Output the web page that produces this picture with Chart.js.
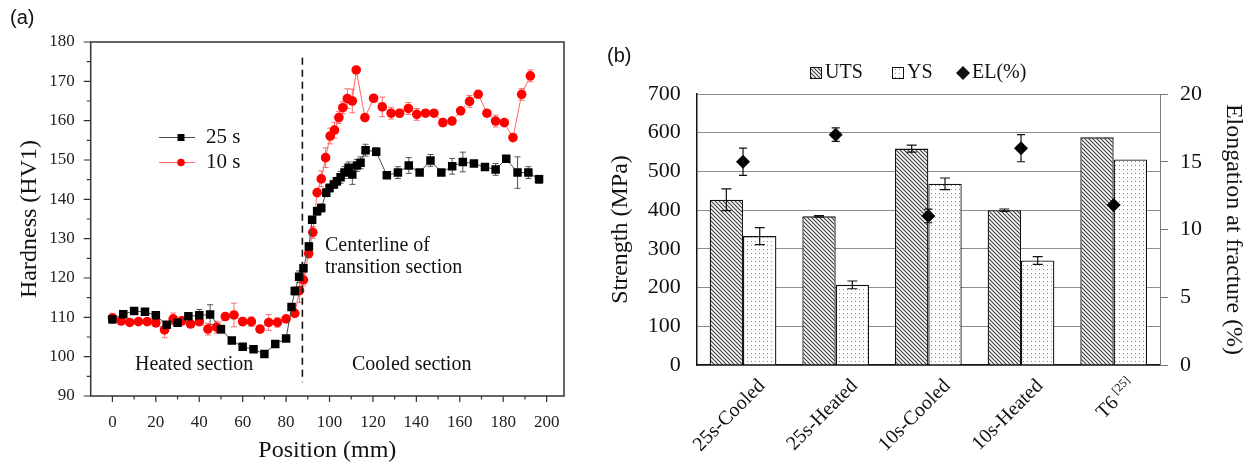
<!DOCTYPE html>
<html>
<head>
<meta charset="utf-8">
<script src="https://cdn.jsdelivr.net/npm/chart.js@4.4.1/dist/chart.umd.min.js"></script>
<style>
  body { margin: 0; background: #fff; }
  #wrap { position: relative; width: 1248px; height: 465px; }
  canvas { position: absolute; top: 0; }
  #hardness { left: 0; }
  #strength { left: 590px; }
</style>
</head>
<body>
<div id="wrap">
  <canvas id="hardness" width="590" height="465"></canvas>
  <canvas id="strength" width="658" height="465"></canvas>
</div>
<script>
const serif = "'Liberation Serif', 'Times New Roman', serif";
const sans = "'Liberation Sans', Arial, sans-serif";

// (a) hardness profiles
const pos25 = [0, 5, 10, 15, 20, 25, 30, 35, 40, 45, 50, 55, 60, 65, 70, 75, 80,
  82.5, 84, 86, 88, 90.5, 92,
  94.3, 96.2, 98.5, 100, 102, 103.4, 105.1, 106.9, 108.8, 110.5, 112.6, 114.3, 116.6,
  121.5, 126.4, 131.5, 136.5, 141.5, 146.5, 151.5, 156.5, 161.4, 166.5, 171.6, 176.5, 181.4, 186.6, 191.6, 196.5];
const hv25 = [109.5, 110.8, 111.6, 111.4, 110.5, 108.1, 108.6, 110.3, 110.5, 110.7, 107.0, 104.1, 102.5, 101.9, 100.7, 103.2, 104.6,
  112.6, 116.7, 120.3, 122.5, 128.0, 134.8,
  137.0, 137.8, 141.7, 142.9, 143.8, 144.6, 145.6, 146.8, 148.0, 146.3, 148.6, 149.3, 152.5,
  152.1, 146.1, 146.8, 148.6, 146.8, 149.9, 146.8, 148.4, 149.5, 149.1, 148.2, 147.6, 150.3, 146.8, 146.8, 145.1];
const err25 = [1, 0.5, 0.3, 0.3, 0.5, 0.8, 0.8, 0.8, 1.5, 2.5, 1, 0.8, 0.5, 0.8, 0.3, 0.5, 0.5,
  0.5, 1, 1.5, 1, 1, 0.5,
  1, 1, 1, 1, 1, 1, 1.5, 1.5, 1.5, 2.5, 1.5, 1.5, 1.5,
  1, 0.5, 1.5, 2, 0.5, 1.5, 0.5, 2, 2.5, 0.5, 0.5, 1.5, 0.3, 4, 1.5, 1];

const pos10 = [0, 4, 8, 12, 16, 20, 24, 28, 32, 36, 40, 44, 48, 52, 56, 60, 64, 68, 72, 76, 80, 84,
  86.2, 88, 90.4, 92.3,
  94.3, 96.2, 98.2, 100.3, 102.3, 104.3, 106.1, 108.2, 110.5, 112.3, 116.3, 120.3, 124.3, 128.4, 132.3,
  136.3, 140.2, 144.2, 148.1, 152.2, 156.4, 160.4, 164.5, 168.5, 172.5, 176.5, 180.5, 184.5, 188.5, 192.5];
const hv10 = [109.8, 109.1, 108.7, 108.9, 108.9, 108.6, 106.8, 109.6, 109.1, 108.3, 108.9, 107.0, 107.5, 110.2, 110.6, 108.9, 108.9, 107.0, 108.7, 108.7, 109.6, 111.0,
  116.8, 119.5, 126.2, 131.6,
  141.7, 145.2, 150.6, 156.1, 157.6, 160.8, 163.3, 165.6, 165.0, 172.9, 160.8, 165.7, 163.5, 161.9, 161.9,
  163.1, 161.6, 161.9, 161.9, 159.5, 159.9, 162.5, 164.9, 166.7, 161.9, 159.9, 159.5, 155.7, 166.7, 171.4];
const err10 = [1.2, 1, 0.5, 0.5, 0.8, 0.5, 2, 1.5, 1, 0.8, 1, 1.5, 1.5, 0.8, 3, 1, 1.2, 0.8, 2, 1.2, 0.5, 0.5,
  3, 1.5, 1, 1.5,
  0.5, 2, 2.5, 2, 2, 1.5, 1.5, 2.5, 3, 0.5, 0.5, 0.5, 2.5, 1.5, 1,
  1.5, 1.5, 0.5, 0.3, 1, 0.5, 0.5, 1.5, 0.5, 0.5, 1.5, 0.5, 0.5, 1.5, 1.5];

const xTicks = [0, 20, 40, 60, 80, 100, 120, 140, 160, 180, 200];
const yTicks = [90, 100, 110, 120, 130, 140, 150, 160, 170, 180];
const centerline = 87.5;

// (b) tensile properties
const categories = ['25s-Cooled', '25s-Heated', '10s-Cooled', '10s-Heated', 'T6'];
const labelRefs = ['', '', '', '', '[25]'];
const uts = [427, 384, 559, 400, 588];
const utsErr = [28, 2, 9, 3, 0];
const ys = [333, 207, 468, 270, 531];
const ysErr = [22, 10, 15, 10, 0];
const el = [15, 17, 11, 16, 11.8];
const elErr = [1, 0.5, 0.5, 1, 0];
const strengthTicks = [0, 100, 200, 300, 400, 500, 600, 700];
const elTicks = [0, 5, 10, 15, 20];

Chart.defaults.font.family = serif;
Chart.defaults.color = '#111';

function hatchPattern() {
  const c = document.createElement('canvas');
  c.width = 4; c.height = 4;
  const g = c.getContext('2d');
  g.fillStyle = '#fff'; g.fillRect(0, 0, 4, 4);
  g.strokeStyle = '#3a3a3a'; g.lineWidth = 1.1;
  g.beginPath();
  g.moveTo(-1, -1); g.lineTo(5, 5);
  g.moveTo(-1, 3); g.lineTo(1, 5);
  g.moveTo(3, -1); g.lineTo(5, 1);
  g.stroke();
  return g.createPattern(c, 'repeat');
}
function dotPattern() {
  const c = document.createElement('canvas');
  c.width = 4; c.height = 4;
  const g = c.getContext('2d');
  g.fillStyle = '#fff'; g.fillRect(0, 0, 4, 4);
  g.fillStyle = '#8a8a8a'; g.fillRect(1, 1, 1, 1);
  return g.createPattern(c, 'repeat');
}
const hatch = hatchPattern();
const dots = dotPattern();

function vErr(ctx, x, y1, y2, cap) {
  ctx.beginPath();
  ctx.moveTo(x, y1); ctx.lineTo(x, y2);
  ctx.moveTo(x - cap / 2, y1); ctx.lineTo(x + cap / 2, y1);
  ctx.moveTo(x - cap / 2, y2); ctx.lineTo(x + cap / 2, y2);
  ctx.stroke();
}

const hardnessDecor = {
  id: 'hardnessDecor',
  beforeDatasetsDraw(chart) {
    const ctx = chart.ctx, ysc = chart.scales.y;
    const sets = [[hv25, err25, '#555'], [hv10, err10, '#ff6b6b']];
    ctx.save();
    ctx.lineWidth = 1;
    sets.forEach(([vals, errs, col], d) => {
      ctx.strokeStyle = col;
      chart.getDatasetMeta(d).data.forEach((pt, i) => {
        if (!errs[i]) return;
        vErr(ctx, pt.x, ysc.getPixelForValue(vals[i] + errs[i]), ysc.getPixelForValue(vals[i] - errs[i]), 6);
      });
    });
    ctx.restore();
  },
  afterDraw(chart) {
    const ctx = chart.ctx, xs = chart.scales.x, ysc = chart.scales.y;
    const {left, right, top, bottom} = chart.chartArea;
    ctx.save();
    // frame and outward ticks
    ctx.strokeStyle = '#333'; ctx.lineWidth = 1.5;
    ctx.strokeRect(left, top, right - left, bottom - top);
    ctx.lineWidth = 1.2;
    ctx.beginPath();
    for (let v = 0; v <= 200; v += 10) {
      const px = xs.getPixelForValue(v);
      ctx.moveTo(px, bottom); ctx.lineTo(px, bottom + (v % 20 === 0 ? 6 : 3.5));
    }
    for (let v = 90; v <= 180; v += 5) {
      const py = ysc.getPixelForValue(v);
      ctx.moveTo(left, py); ctx.lineTo(left - (v % 10 === 0 ? 7 : 4), py);
    }
    ctx.stroke();

    // centerline of transition section
    ctx.strokeStyle = '#111'; ctx.lineWidth = 1.6; ctx.setLineDash([7, 5]);
    const cx = xs.getPixelForValue(centerline);
    ctx.beginPath();
    ctx.moveTo(cx, ysc.getPixelForValue(176)); ctx.lineTo(cx, ysc.getPixelForValue(93.5));
    ctx.stroke();
    ctx.setLineDash([]);

    // annotations
    ctx.fillStyle = '#111';
    ctx.textAlign = 'left'; ctx.textBaseline = 'middle';
    ctx.font = `20px ${serif}`;
    ctx.fillText('Centerline of', 325, 246);
    ctx.fillText('transition section', 325, 268);
    ctx.fillText('Heated section', 135, 365);
    ctx.fillText('Cooled section', 352, 365);

    // legend
    const items = [['25 s', '#4a4a4a', '#000', 'rect', 137.5], ['10 s', '#ff6666', '#ff0000', 'circle', 162.5]];
    items.forEach(([txt, lc, mc, shape, y]) => {
      ctx.strokeStyle = lc; ctx.lineWidth = 1;
      ctx.beginPath(); ctx.moveTo(159, y); ctx.lineTo(195, y); ctx.stroke();
      ctx.fillStyle = mc;
      if (shape === 'rect') ctx.fillRect(177.5, y - 3.5, 7, 7);
      else { ctx.beginPath(); ctx.arc(181, y, 3.8, 0, Math.PI * 2); ctx.fill(); }
      ctx.fillStyle = '#111'; ctx.font = `21px ${serif}`;
      ctx.fillText(txt, 206, y);
    });

    ctx.font = `20px ${sans}`;
    ctx.fillText('(a)', 10, 18);
    ctx.restore();
  }
};

new Chart(document.getElementById('hardness'), {
  type: 'line',
  data: {
    datasets: [
      {
        label: '25 s',
        data: pos25.map((x, i) => ({x, y: hv25[i]})),
        borderColor: '#4a4a4a', borderWidth: 1,
        pointStyle: 'rect', pointRadius: 6,
        pointBackgroundColor: '#000', pointBorderColor: '#000', pointBorderWidth: 0
      },
      {
        label: '10 s',
        data: pos10.map((x, i) => ({x, y: hv10[i]})),
        borderColor: '#ff6666', borderWidth: 1,
        pointStyle: 'circle', pointRadius: 4.8,
        pointBackgroundColor: '#ff0000', pointBorderColor: '#ff0000', pointBorderWidth: 0
      }
    ]
  },
  options: {
    responsive: false, animation: false, devicePixelRatio: 1,
    layout: {padding: {top: 42, right: 26, left: 15, bottom: 0}},
    plugins: {legend: {display: false}, tooltip: {enabled: false}},
    scales: {
      x: {
        type: 'linear', min: -10, max: 208,
        afterBuildTicks: s => { s.ticks = xTicks.map(v => ({value: v})); },
        afterFit: s => { s.height = 69; },
        grid: {display: false}, border: {display: false},
        ticks: {font: {size: 17}, color: '#222', padding: 8, maxRotation: 0, autoSkip: false},
        title: {display: true, text: 'Position (mm)', font: {size: 24}, color: '#111', padding: 0}
      },
      y: {
        min: 90, max: 180,
        afterBuildTicks: s => { s.ticks = yTicks.map(v => ({value: v})); },
        afterFit: s => { s.width = 75.7; },
        grid: {display: false}, border: {display: false},
        ticks: {font: {size: 17}, color: '#222', padding: 8},
        title: {display: true, text: 'Hardness (HV1)', font: {size: 24}, color: '#111', padding: 0}
      }
    }
  },
  plugins: [hardnessDecor]
});

const strengthDecor = {
  id: 'strengthDecor',
  afterDatasetsDraw(chart) {
    const ctx = chart.ctx, ysc = chart.scales.y, y2 = chart.scales.y2;
    ctx.save();
    ctx.strokeStyle = '#111'; ctx.lineWidth = 1.2;
    [[uts, utsErr], [ys, ysErr]].forEach(([vals, errs], d) => {
      chart.getDatasetMeta(d).data.forEach((bar, i) => {
        if (!errs[i]) return;
        vErr(ctx, bar.x, ysc.getPixelForValue(vals[i] + errs[i]), ysc.getPixelForValue(vals[i] - errs[i]), 10);
      });
    });
    chart.getDatasetMeta(2).data.forEach((pt, i) => {
      if (!elErr[i]) return;
      vErr(ctx, pt.x, y2.getPixelForValue(el[i] + elErr[i]), y2.getPixelForValue(el[i] - elErr[i]), 8);
    });
    ctx.restore();
  },
  afterDraw(chart) {
    const ctx = chart.ctx, xs = chart.scales.x;
    const base = chart.chartArea.bottom;
    ctx.save();
    ctx.fillStyle = '#111';
    // rotated category labels
    categories.forEach((lab, i) => {
      ctx.save();
      ctx.translate(xs.getPixelForValue(i) + 19, base + 18);
      ctx.rotate(-Math.PI / 4);
      ctx.textAlign = 'right'; ctx.textBaseline = 'middle';
      let end = 0;
      if (labelRefs[i]) {
        ctx.font = `12px ${serif}`;
        ctx.fillText(labelRefs[i], 0, -6);
        end = ctx.measureText(labelRefs[i]).width + 4;
      }
      ctx.font = `20px ${serif}`;
      ctx.fillText(lab, -end, 0);
      ctx.restore();
    });

    // legend
    ctx.textAlign = 'left'; ctx.textBaseline = 'middle';
    ctx.font = `20px ${serif}`;
    const ly = 73;
    [[hatch, 220, 'UTS'], [dots, 302, 'YS']].forEach(([pat, x, txt]) => {
      ctx.fillStyle = pat; ctx.fillRect(x, ly - 6, 12, 12);
      ctx.strokeStyle = '#111'; ctx.lineWidth = 1; ctx.strokeRect(x + 0.5, ly - 5.5, 11, 11);
      ctx.fillStyle = '#111'; ctx.fillText(txt, x + 15, ly);
    });
    ctx.beginPath();
    ctx.moveTo(373, ly - 7); ctx.lineTo(380, ly); ctx.lineTo(373, ly + 7); ctx.lineTo(366, ly);
    ctx.closePath(); ctx.fill();
    ctx.fillText('EL(%)', 382, ly);

    ctx.font = `20px ${sans}`;
    ctx.fillText('(b)', 17, 56);
    ctx.restore();
  }
};

new Chart(document.getElementById('strength'), {
  type: 'bar',
  data: {
    labels: categories,
    datasets: [
      {label: 'UTS', data: uts, backgroundColor: hatch, borderColor: '#111', borderWidth: 1.3, yAxisID: 'y', order: 2},
      {label: 'YS', data: ys, backgroundColor: dots, borderColor: '#111', borderWidth: 1.3, yAxisID: 'y', order: 2},
      {
        type: 'line', label: 'EL(%)', data: el, yAxisID: 'y2', order: 0,
        showLine: false, pointStyle: 'rectRot', pointRadius: 7,
        backgroundColor: '#000', borderColor: '#000', pointBorderWidth: 0
      }
    ]
  },
  options: {
    responsive: false, animation: false, devicePixelRatio: 1,
    layout: {padding: {top: 94, right: 0, left: 16, bottom: 0}},
    plugins: {legend: {display: false}, tooltip: {enabled: false}},
    datasets: {bar: {categoryPercentage: 0.72, barPercentage: 1.0}},
    scales: {
      x: {
        grid: {display: false},
        border: {display: true, color: '#111', width: 1.5},
        ticks: {display: false},
        afterFit: s => { s.height = 100; }
      },
      y: {
        position: 'left', min: 0, max: 700,
        afterBuildTicks: s => { s.ticks = strengthTicks.map(v => ({value: v})); },
        afterFit: s => { s.width = 90.7; },
        grid: {color: '#8c8c8c', lineWidth: 1, drawTicks: false},
        border: {display: true, color: '#111', width: 1.5},
        ticks: {font: {size: 22}, color: '#111', padding: 16},
        title: {display: true, text: 'Strength (MPa)', font: {size: 24}, color: '#111', padding: 0}
      },
      y2: {
        position: 'right', min: 0, max: 20,
        afterBuildTicks: s => { s.ticks = elTicks.map(v => ({value: v})); },
        afterFit: s => { s.width = 88; },
        grid: {drawOnChartArea: false, drawTicks: true, tickLength: 8, color: '#7a7a7a'},
        border: {display: true, color: '#7a7a7a', width: 1},
        ticks: {font: {size: 22}, color: '#111', padding: 12},
        title: {display: true, text: 'Elongation at fracture (%)', font: {size: 24}, color: '#111', padding: 0}
      }
    }
  },
  plugins: [strengthDecor]
});
</script>
</body>
</html>
